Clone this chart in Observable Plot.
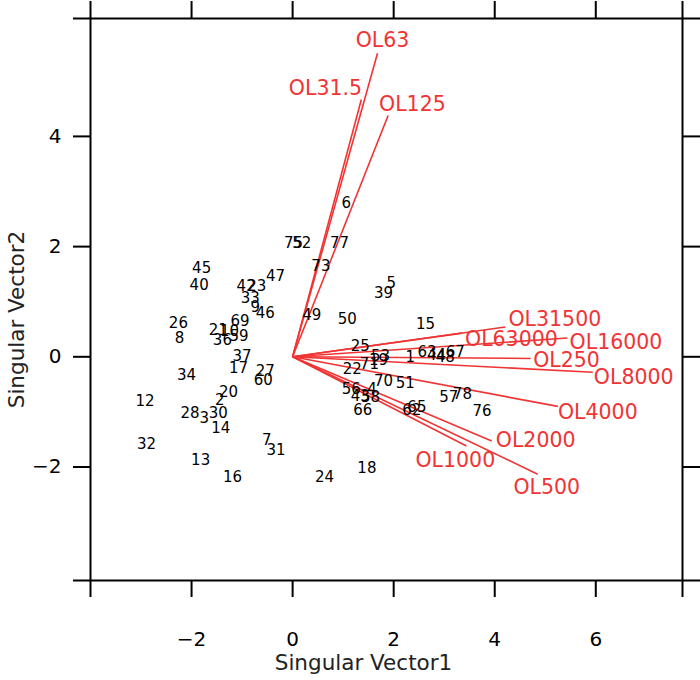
<!DOCTYPE html>
<html>
<head>
<meta charset="utf-8">
<script src="https://cdn.jsdelivr.net/npm/d3@7"></script>
<script src="https://cdn.jsdelivr.net/npm/@observablehq/plot@0.6"></script>
<style>
  html, body { margin: 0; padding: 0; background: white; }
</style>
</head>
<body>
<div id="chart"></div>
<script>
// Sample points (row scores)
const pointIds = ["45","40","42","23","47","33","9","46","26","8","69","21","10","36","59","37","17","27","60","34","20","2","12","28","3","30","14","32","13","16","7","31","24","18","6","75","52","77","73","5","39","49","50","15","25","53","71","19","22","1","63","44","48","67","70","51","56","4","43","58","66","62","65","57","78","76"];
const pointX = [-1.80,-1.85,-0.92,-0.71,-0.34,-0.84,-0.74,-0.54,-2.26,-2.24,-1.04,-1.47,-1.25,-1.39,-1.06,-1.00,-1.07,-0.54,-0.58,-2.10,-1.27,-1.44,-2.92,-2.03,-1.75,-1.47,-1.42,-2.89,-1.82,-1.19,-0.51,-0.33,0.63,1.47,1.06,0.02,0.18,0.93,0.56,1.95,1.80,0.38,1.08,2.63,1.34,1.74,1.52,1.70,1.18,2.33,2.66,2.85,3.02,3.22,1.80,2.23,1.16,1.57,1.34,1.54,1.39,2.36,2.46,3.09,3.36,3.75];
const pointY = [1.60,1.30,1.28,1.29,1.46,1.06,0.90,0.79,0.61,0.33,0.64,0.48,0.47,0.30,0.37,0.01,-0.21,-0.26,-0.43,-0.34,-0.64,-0.79,-0.80,-1.02,-1.12,-1.02,-1.30,-1.59,-1.88,-2.19,-1.52,-1.70,-2.18,-2.03,2.79,2.07,2.07,2.07,1.64,1.33,1.16,0.75,0.68,0.59,0.19,0.01,-0.14,-0.06,-0.23,0.00,0.09,0.03,0.00,0.09,-0.44,-0.48,-0.58,-0.58,-0.72,-0.73,-0.96,-0.96,-0.92,-0.73,-0.67,-0.98];

// Variable loadings (arrows)
const arrowNames = ["OL63","OL31.5","OL125","OL31500","OL63000","OL16000","OL250","OL8000","OL4000","OL2000","OL1000","OL500"];
const arrowX = [1.68,1.36,1.89,4.21,3.35,5.44,4.71,5.94,5.25,3.94,3.44,4.85];
const arrowY = [5.51,4.67,4.38,0.54,0.43,0.34,-0.03,-0.28,-0.90,-1.53,-1.62,-2.13];
const labelX = [1.78,0.65,2.37,5.19,4.33,6.40,5.42,6.75,6.04,4.81,3.22,5.03];
const labelY = [5.74,4.87,4.58,0.68,0.32,0.26,-0.06,-0.37,-1.01,-1.52,-1.88,-2.37];

// Axes
const xDomain = [-4, 7.716];
const yDomain = [-4.06, 6.14];
const xTickValues = [-2, 0, 2, 4, 6];
const yTickValues = [-2, 0, 2, 4];
const xTitle = "Singular Vector1";
const yTitle = "Singular Vector2";

const points = pointIds.map((id, i) => ({id, x: pointX[i], y: pointY[i]}));
const arrows = arrowNames.map((name, i) => ({name, x: arrowX[i], y: arrowY[i], lx: labelX[i], ly: labelY[i]}));

const fmt = d => d < 0 ? "\u2212" + Math.abs(d) : String(d);
const xTicksAll = [xDomain[0], ...xTickValues, xDomain[1]];
const yTicksAll = [yDomain[0], ...yTickValues, yDomain[1]];
const xFmt = d => xTickValues.includes(d) ? fmt(d) : "";
const yFmt = d => yTickValues.includes(d) ? fmt(d) : "";
const red = "#f03434";

const chart = Plot.plot({
  width: 700,
  height: 680,
  marginLeft: 90,
  marginRight: 18,
  marginTop: 18,
  marginBottom: 100,
  x: {domain: xDomain},
  y: {domain: yDomain},
  style: {fontFamily: "DejaVu Sans", background: "white", color: "black"},
  marks: [
    Plot.axisX({anchor: "bottom", ticks: xTicksAll, tickFormat: xFmt, tickSize: 17, tickPadding: 34, fontSize: 20, strokeWidth: 2, label: null}),
    Plot.axisX({anchor: "top", ticks: xTicksAll, tickFormat: () => "", tickSize: 18, strokeWidth: 2, label: null}),
    Plot.axisY({anchor: "left", ticks: yTicksAll, tickFormat: yFmt, tickSize: 17, tickPadding: 12, fontSize: 20, strokeWidth: 2, label: null}),
    Plot.axisY({anchor: "right", ticks: yTicksAll, tickFormat: () => "", tickSize: 18, strokeWidth: 2, label: null}),
    Plot.frame({stroke: "black", strokeWidth: 2}),
    Plot.link(arrows, {x1: () => 0, y1: () => 0, x2: "x", y2: "y", stroke: red, strokeWidth: 1.6}),
    Plot.text(points, {x: "x", y: "y", text: "id", fontSize: 15, fill: "black"}),
    Plot.text(arrows, {x: "lx", y: "ly", text: "name", fontSize: 20.5, fill: red}),
    Plot.text([xTitle], {frameAnchor: "bottom", textAnchor: "middle", lineAnchor: "middle", dy: 83, dx: -23, fontSize: 21.5, fill: "#222"}),
    Plot.text([yTitle], {frameAnchor: "left", textAnchor: "middle", lineAnchor: "middle", rotate: -90, dx: -73, dy: 20, fontSize: 21.5, fill: "#222"})
  ]
});
document.getElementById("chart").appendChild(chart);
</script>
</body>
</html>
